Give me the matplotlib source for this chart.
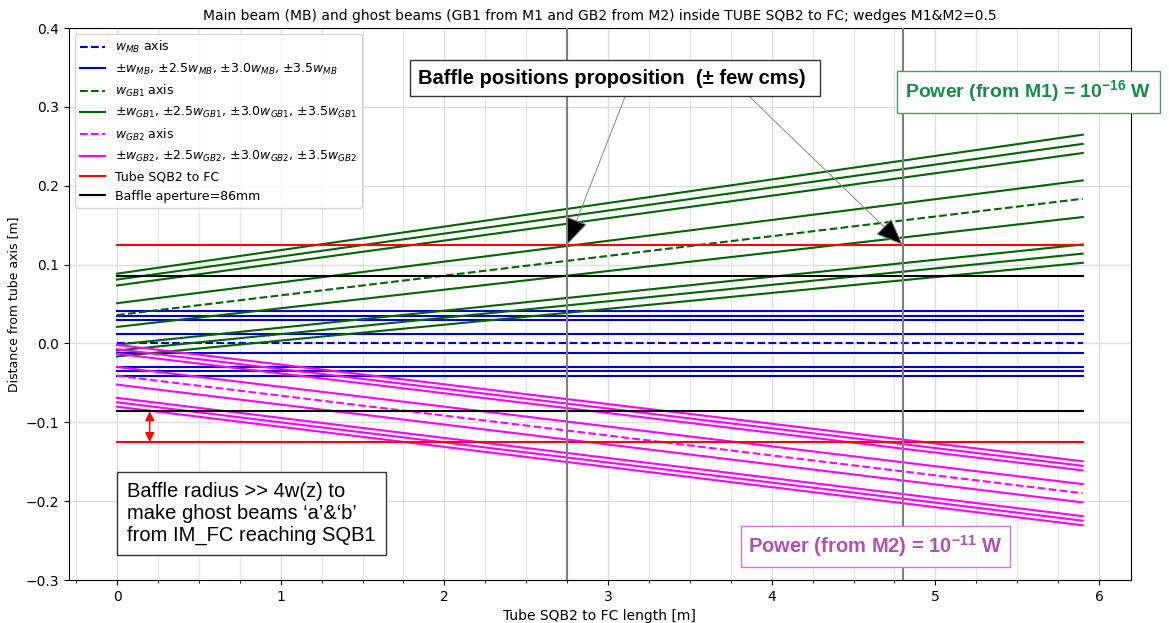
#/usr/bin/env python3
import matplotlib.pyplot as plt
from matplotlib.ticker import MultipleLocator
import numpy as np

plt.rcParams['mathtext.fontset'] = 'custom'
plt.rcParams['mathtext.bf'] = 'Liberation Sans:bold'
plt.rcParams['mathtext.it'] = 'DejaVu Sans:italic'
plt.rcParams['mathtext.rm'] = 'DejaVu Sans'

# beam data along the tube (z in m, values in m)
z = np.array([0.0, 5.9])
w_mb = np.array([0.0117, 0.0117])
axis_mb = np.array([0.0, 0.0])
axis_gb1 = np.array([0.036, 0.1835])
w_gb1 = np.array([0.0150, 0.0232])
axis_gb2 = np.array([-0.041, -0.190])
w_gb2 = np.array([0.0112, 0.0116])
mults = [1.0, 2.5, 3.0, 3.5]
tube_r = 0.125
baffle_r = 0.086
baffle_z = [2.75, 4.8]

fig = plt.figure(figsize=(11.69, 6.23), dpi=100)
ax = fig.add_axes([0.0588, 0.069, 0.9087, 0.886])

def beam(axis, w, col, name):
    ax.plot(z, axis, '--', color=col, lw=1.5, label=r'$w_{%s}$ axis' % name)
    lab = ', '.join([r'$\pm w_{%s}$' % name] + [r'$\pm %.1f w_{%s}$' % (m, name) for m in mults[1:]])
    for i, m in enumerate(mults):
        ax.plot(z, axis + m * w, color=col, lw=1.5, label=lab if i == 0 else None)
        ax.plot(z, axis - m * w, color=col, lw=1.5)

beam(axis_mb, w_mb, 'mediumblue', 'MB')
beam(axis_gb1, w_gb1, 'darkgreen', 'GB1')
beam(axis_gb2, w_gb2, 'magenta', 'GB2')

ax.plot(z, [tube_r, tube_r], color='red', lw=1.5, label='Tube SQB2 to FC')
ax.plot(z, [-tube_r, -tube_r], color='red', lw=1.5)
ax.plot(z, [baffle_r, baffle_r], color='black', lw=1.5, label='Baffle aperture=86mm')
ax.plot(z, [-baffle_r, -baffle_r], color='black', lw=1.5)

for bz in baffle_z:
    ax.axvline(bz, color='gray', lw=1.5, zorder=3)

ax.set_ylim(-0.3, 0.4)
ax.xaxis.set_minor_locator(MultipleLocator(0.25))
ax.grid(True, which='major', color='#dddddd', lw=1)
ax.grid(True, which='minor', axis='x', color='#e6e6e6', lw=1)
ax.set_axisbelow(True)
ax.set_title('Main beam (MB) and ghost beams (GB1 from M1 and GB2 from M2) inside TUBE SQB2 to FC; wedges M1&M2=0.5', fontsize=10)
ax.set_xlabel('Tube SQB2 to FC length [m]', fontsize=10)
ax.set_ylabel('Distance from tube axis [m]', fontsize=9)
ax.legend(loc='upper left', fontsize=9)

# red double arrow between baffle and tube
ax.annotate('', xy=(0.2, -baffle_r), xytext=(0.2, -tube_r),
            arrowprops=dict(arrowstyle='<|-|>', color='red', lw=1, mutation_scale=14,
                            shrinkA=0, shrinkB=0))

# annotation box with arrows to baffle positions
ax.text(3.04, 0.3365, 'Baffle positions proposition  (± few cms) ', fontsize=14.5, weight='bold',
        family='Liberation Sans', ha='center', va='center', zorder=6,
        bbox=dict(boxstyle='square,pad=0.42', fc='white', ec='#333333', lw=1))
for bz, sx in zip(baffle_z, [3.103, 3.867]):
    ax.annotate('', xy=(bz, tube_r), xytext=(sx, 0.3124),
                arrowprops=dict(arrowstyle='-|>,head_length=1.1,head_width=0.45', fc='black',
                                ec='#888888', lw=0.7, mutation_scale=16, shrinkA=0, shrinkB=0))

ax.text(0.061, -0.2155, 'Baffle radius >> 4w(z) to \nmake ghost beams ‘a’&‘b’\nfrom IM_FC reaching SQB1',
        fontsize=14.5, family='Liberation Sans', ha='left', va='center', linespacing=1.2, zorder=6,
        bbox=dict(boxstyle='square,pad=0.5', fc='white', ec='#333333', lw=1))

fig.text(905 / 1169, 1 - 92 / 623, r'Power (from M1) = 10$^{\mathbf{-16}}$ W', fontsize=14,
         weight='bold', family='Liberation Sans', color='#1a8a4a', ha='left', va='center',
         bbox=dict(boxstyle='square,pad=0.42', fc='white', ec='#3aa36a', lw=1))
ax.text(3.855, -0.2573, r'Power (from M2) = 10$^{\mathbf{-11}}$ W ', fontsize=14.5,
        weight='bold', family='Liberation Sans', color='#b050b0', ha='left', va='center', zorder=6,
        bbox=dict(boxstyle='square,pad=0.37', fc='white', ec='#c878c8', lw=1))

fig.savefig('out.png', dpi=100)
